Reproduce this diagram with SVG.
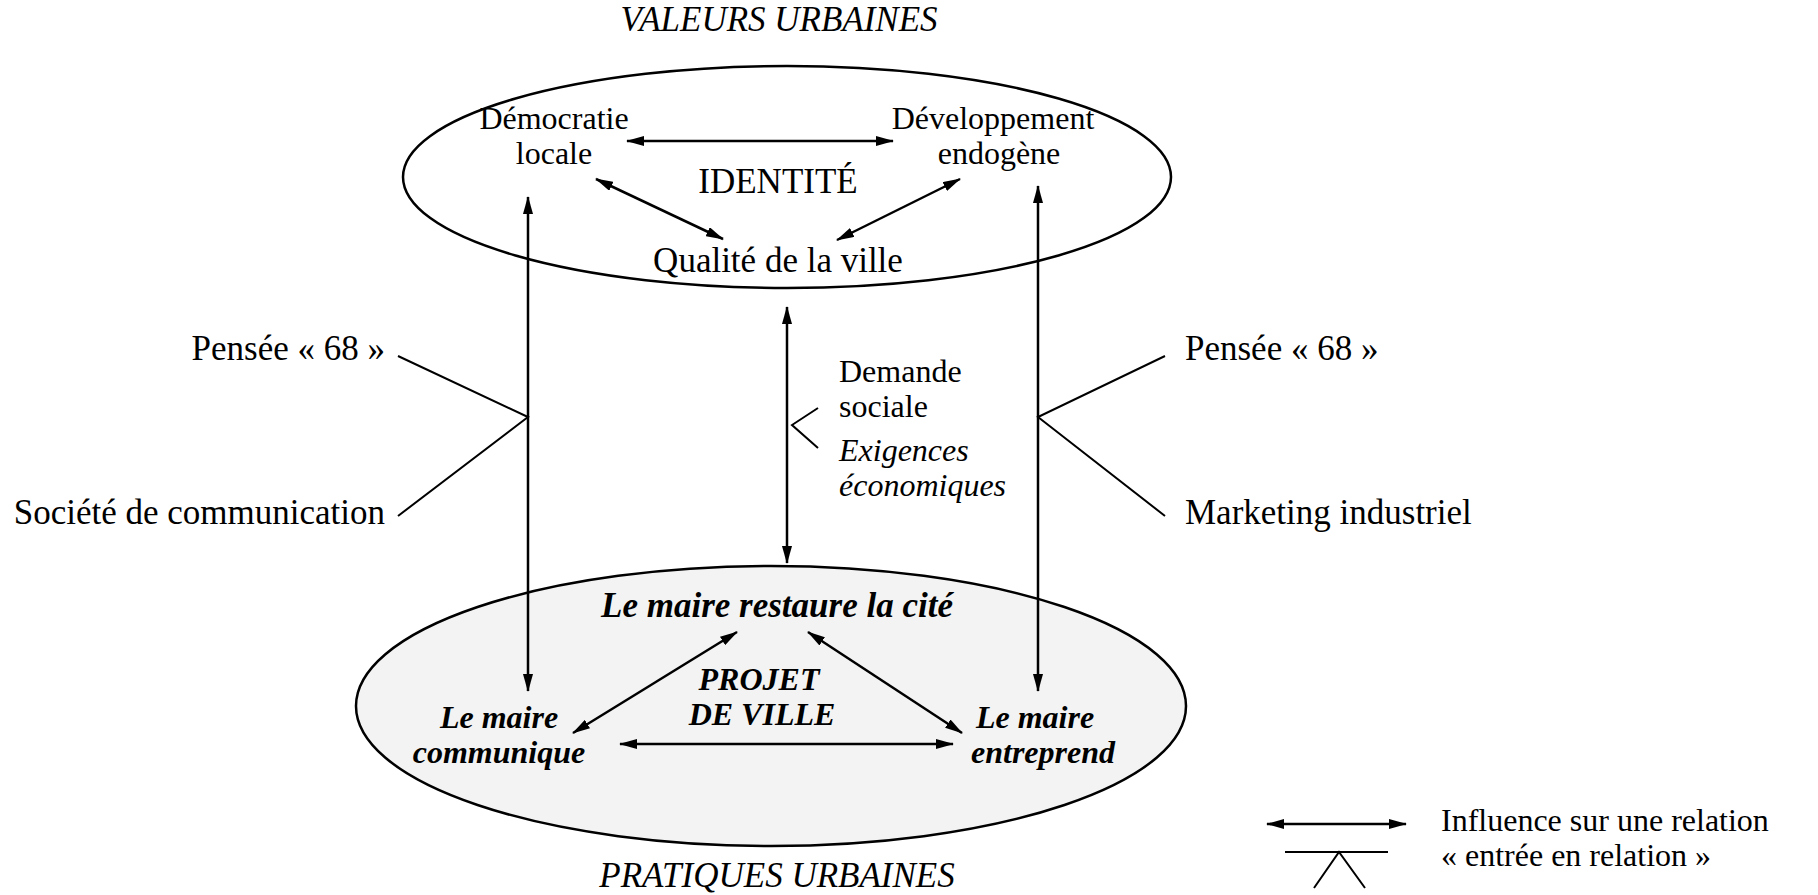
<svg xmlns="http://www.w3.org/2000/svg" width="1818" height="895" viewBox="0 0 1818 895">
<defs>
<marker id="ah" viewBox="0 0 18 10" refX="17" refY="5" markerWidth="18" markerHeight="10" markerUnits="userSpaceOnUse" orient="auto-start-reverse">
<path d="M0,0 L18,5 L0,10 Z" fill="#000"/>
</marker>
</defs>
<style>
text{font-family:"Liberation Serif","Times New Roman",serif;font-size:35px;fill:#000}
.two{font-size:32px}
.it{font-style:italic}
.bi{font-style:italic;font-weight:bold}
.ell{fill:none;stroke:#000;stroke-width:2.5}
.arr{stroke:#000;stroke-width:2.5;fill:none;marker-start:url(#ah);marker-end:url(#ah)}
.ln{stroke:#000;stroke-width:2;fill:none}
.m{text-anchor:middle}
.e{text-anchor:end}
</style>
<rect width="1818" height="895" fill="#fff"/>

<g id="valeurs-urbaines">
<ellipse class="ell" cx="787" cy="177" rx="384" ry="111"/>
<text class="it m" x="779" y="31">VALEURS URBAINES</text>
<text class="m" x="778" y="193">IDENTITÉ</text>
</g>
<g id="democratie">
<text class="m two" x="554" y="129">Démocratie<tspan x="554" y="164">locale</tspan></text>
</g>
<g id="developpement">
<text class="m two" x="993" y="129">Développement<tspan x="999" y="164">endogène</tspan></text>
</g>
<g id="qualite">
<text class="m" x="778" y="272">Qualité de la ville</text>
</g>

<g id="pratiques-urbaines">
<ellipse cx="771" cy="706" rx="415" ry="140" fill="#f3f3f3" stroke="#000" stroke-width="2.5"/>
<text class="it m" x="777" y="887">PRATIQUES URBAINES</text>
<text class="bi m two" x="759" y="690">PROJET<tspan x="762" y="725">DE VILLE</tspan></text>
</g>
<g id="restaure">
<text class="bi m" x="777" y="617">Le maire restaure la cité</text>
</g>
<g id="communique">
<text class="bi m two" x="499" y="728">Le maire<tspan x="499" y="763">communique</tspan></text>
</g>
<g id="entreprend">
<text class="bi m two" x="1035" y="728">Le maire<tspan x="1043" y="763">entreprend</tspan></text>
</g>

<g id="left-labels">
<text class="e" x="385" y="360">Pensée « 68 »</text>
<text class="e" x="385" y="524">Société de communication</text>
</g>
<g id="center-labels">
<text class="two" x="839" y="382">Demande<tspan x="839" y="417">sociale</tspan></text>
<text class="it two" x="839" y="461">Exigences<tspan x="839" y="496">économiques</tspan></text>
</g>
<g id="right-labels">
<text x="1185" y="360">Pensée « 68 »</text>
<text x="1185" y="524">Marketing industriel</text>
</g>

<g id="connectors">
<line class="arr" x1="627" y1="141" x2="893" y2="141"/>
<line class="arr" x1="596" y1="179" x2="723" y2="239"/>
<line class="arr" x1="960" y1="179" x2="837" y2="240"/>
<line class="arr" x1="528" y1="197" x2="528" y2="691"/>
<line class="arr" x1="1038" y1="186" x2="1038" y2="691"/>
<line class="arr" x1="787" y1="307" x2="787" y2="563"/>
<line class="arr" x1="737" y1="632" x2="573" y2="733"/>
<line class="arr" x1="808" y1="632" x2="962" y2="733"/>
<line class="arr" x1="620" y1="744" x2="953" y2="744"/>
<polyline class="ln" points="398,356 528,417 398,516"/>
<polyline class="ln" points="1165,356 1038,417 1165,516"/>
<polyline class="ln" points="818,408 792,425 818,448"/>
</g>

<g id="legend">
<line class="arr" x1="1267" y1="824" x2="1406" y2="824"/>
<line class="ln" x1="1285" y1="852" x2="1388" y2="852"/>
<polyline class="ln" points="1314,888 1339,852 1365,888"/>
<text class="two" x="1441" y="831">Influence sur une relation<tspan x="1441" y="866">« entrée en relation »</tspan></text>
</g>
</svg>
